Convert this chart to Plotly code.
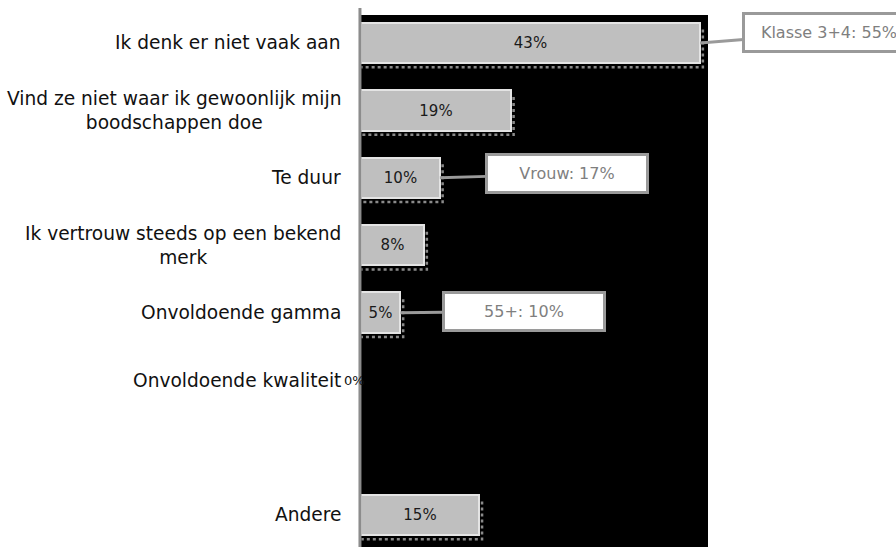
import plotly.graph_objects as go

# Survey answers, one row per slot (the blank slot keeps the gap before "Andere")
categories = [
    "Ik denk er niet vaak aan",
    "Vind ze niet waar ik gewoonlijk mijn<br>boodschappen doe",
    "Te duur",
    "Ik vertrouw steeds op een bekend<br>merk",
    "Onvoldoende gamma",
    "Onvoldoende kwaliteit",
    "",
    "Andere",
]
values = [43, 19, 10, 8, 5, 0, None, 15]

# Sub-group highlights shown in callout boxes
callout_rows = [0, 2, 4]
callout_texts = ["Klasse 3+4: 55%", "Vrouw: 17%", "55+: 10%"]

positions = list(range(len(categories)))
bar_w = 0.6
label_font = dict(family="DejaVu Sans", size=18.6, color="#111111")

fig = go.Figure()

# Dotted drop shadow along the right and bottom edge of every bar
sx, sy = [], []
for p, v in zip(positions, values):
    if not v:
        continue
    dx, dy = 0.35, 0.06
    sx += [v + dx, v + dx, 0.05, None]
    sy += [p - bar_w / 2 + 0.1, p + bar_w / 2 + dy, p + bar_w / 2 + dy, None]
fig.add_trace(go.Scatter(
    x=sx, y=sy, mode="lines", hoverinfo="skip",
    line=dict(color="#8a8a8a", width=2.5, dash="dot"),
))

bar_text = [f"{v}%" if v else "" for v in values]
edge_w = [2 if v else 0 for v in values]
fig.add_trace(go.Bar(
    x=values, y=positions, orientation="h", width=bar_w,
    marker=dict(color="#bfbfbf", line=dict(color="#e4e4e4", width=edge_w)),
    text=bar_text, textposition="inside", insidetextanchor="middle",
    textfont=dict(family="DejaVu Sans", size=15, color="#1a1a1a"),
    hoverinfo="skip",
))

annotations = []
# Category labels, centred per line like the original layout
for p, c in zip(positions, categories):
    if not c:
        continue
    annotations.append(dict(
        xref="paper", yref="y", x=0, y=p, xanchor="right", yanchor="middle",
        xshift=-18, text=c, align="center", showarrow=False, font=label_font,
    ))

# Zero-valued answer gets its label just at the axis
for p, v in zip(positions, values):
    if v == 0:
        annotations.append(dict(
            xref="x", yref="y", x=0, y=p, xanchor="right", yanchor="middle",
            xshift=6, text=f"{v}%", showarrow=False,
            font=dict(family="DejaVu Sans", size=13, color="#111111"),
        ))

# Callout boxes pointing at the bar ends
offsets = [(129, -10), (127, -4), (124, -1)]
widths = [168, 158, 158]
for row, txt, (ax, ay), w in zip(callout_rows, callout_texts, offsets, widths):
    annotations.append(dict(
        xref="x", yref="y", x=values[row], y=positions[row],
        ax=ax, ay=ay, text=txt, width=w, height=35,
        showarrow=True, arrowhead=0, arrowwidth=3, arrowcolor="#9a9a9a",
        bgcolor="#ffffff", bordercolor="#9a9a9a", borderwidth=3, borderpad=0,
        font=dict(family="DejaVu Sans", size=16, color="#7f7f7f"),
    ))

fig.update_layout(
    width=896, height=547,
    margin=dict(l=361, r=188, t=15, b=0, pad=0),
    paper_bgcolor="#ffffff", plot_bgcolor="#000000",
    showlegend=False, bargap=0,
    annotations=annotations,
    shapes=[dict(
        type="line", xref="paper", yref="paper", x0=-0.003, x1=-0.003,
        y0=-0.01, y1=1.013, line=dict(color="#8c8c8c", width=3), layer="above",
    )],
    xaxis=dict(range=[0, 44], showgrid=False, zeroline=False,
               showticklabels=False, ticks=""),
    yaxis=dict(range=[7.475, -0.415], showgrid=False, zeroline=False,
               showticklabels=False, ticks=""),
)

fig.write_html("out.html")
